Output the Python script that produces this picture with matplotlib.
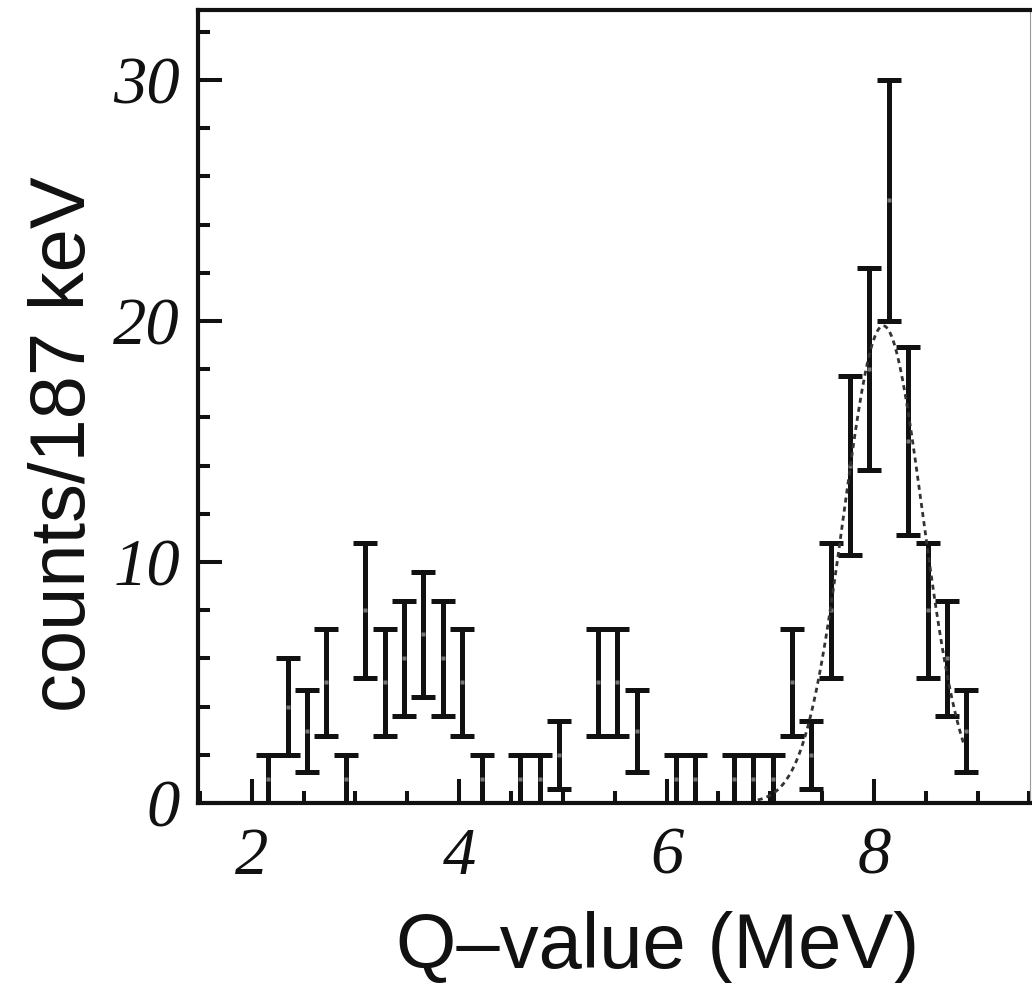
import numpy as np
import matplotlib
matplotlib.use("Agg")
import matplotlib.pyplot as plt
from matplotlib.ticker import MultipleLocator

# bin centres (MeV), 187 keV bins, only non-empty bins
q_value = [2.160, 2.347, 2.534, 2.721, 2.908, 3.095, 3.282, 3.469, 3.656, 3.843,
           4.030, 4.217, 4.591, 4.778, 4.965, 5.339, 5.526, 5.713, 6.087, 6.274,
           6.648, 6.835, 7.022, 7.209, 7.396, 7.583, 7.770, 7.957, 8.144, 8.331,
           8.518, 8.705, 8.892]
counts = [1, 4, 3, 5, 1, 8, 5, 6, 7, 6,
          5, 1, 1, 1, 2, 5, 5, 3, 1, 1,
          1, 1, 1, 5, 2, 8, 14, 18, 25, 15,
          8, 6, 3]
errors = [1.0, 2.0, 1.7, 2.2, 1.0, 2.8, 2.2, 2.4, 2.6, 2.4,
          2.2, 1.0, 1.0, 1.0, 1.4, 2.2, 2.2, 1.7, 1.0, 1.0,
          1.0, 1.0, 1.0, 2.2, 1.4, 2.8, 3.7, 4.2, 5.0, 3.9,
          2.8, 2.4, 1.7]

# gaussian fit to the peak
fit_amp = 19.8
fit_mean = 8.09
fit_sigma = 0.38
fit_range = (6.88, 8.87)

x_ticks = [2, 4, 6, 8]
y_ticks = [0, 10, 20, 30]

fig = plt.figure(figsize=(10.32, 9.83), dpi=100)
ax = fig.add_axes([198 / 1032, 180 / 983, 832 / 1032, 793 / 983])

ax.errorbar(q_value, counts, yerr=errors, fmt='s', ms=3.5,
            mfc='#777777', mec='none', ecolor='#111111',
            elinewidth=3.6, capsize=8.3, capthick=3.6, zorder=3)

xf = np.linspace(fit_range[0], fit_range[1], 300)
yf = fit_amp * np.exp(-0.5 * ((xf - fit_mean) / fit_sigma) ** 2)
ax.plot(xf, yf, color='#333333', lw=2.0, dashes=[1.8, 1.5], zorder=4)

ax.set_xlim(1.482, 9.505)
ax.set_ylim(0, 32.9)

ax.set_xticks(x_ticks)
ax.set_yticks(y_ticks)
ax.xaxis.set_minor_locator(MultipleLocator(0.5))
ax.yaxis.set_minor_locator(MultipleLocator(2))

ax.tick_params(which='both', direction='in', width=2.9, color='#111111',
               top=False, right=False)
ax.tick_params(which='major', length=17)
ax.tick_params(which='minor', length=8.6)
ax.tick_params(axis='y', pad=13)
ax.tick_params(axis='x', pad=17)

for lab in ax.get_xticklabels() + ax.get_yticklabels():
    lab.set_family('Liberation Serif')
    lab.set_style('italic')
    lab.set_fontsize(48)
    lab.set_color('#111111')

for side in ['left', 'bottom', 'top']:
    ax.spines[side].set_linewidth(3.0)
    ax.spines[side].set_color('#111111')
ax.spines['right'].set_linewidth(0.8)
ax.spines['right'].set_color('#999999')

fig.text(658 / 1032, 1 - 948 / 983, 'Q\u2013value (MeV)', ha='center', va='center',
         family='Liberation Sans', fontsize=56, color='#111111')
fig.text(65 / 1032, 1 - 444 / 983, 'counts/187 keV', ha='center', va='center',
         rotation=90, family='Liberation Sans', fontsize=56, color='#111111')

fig.savefig('out.png', dpi=100)
